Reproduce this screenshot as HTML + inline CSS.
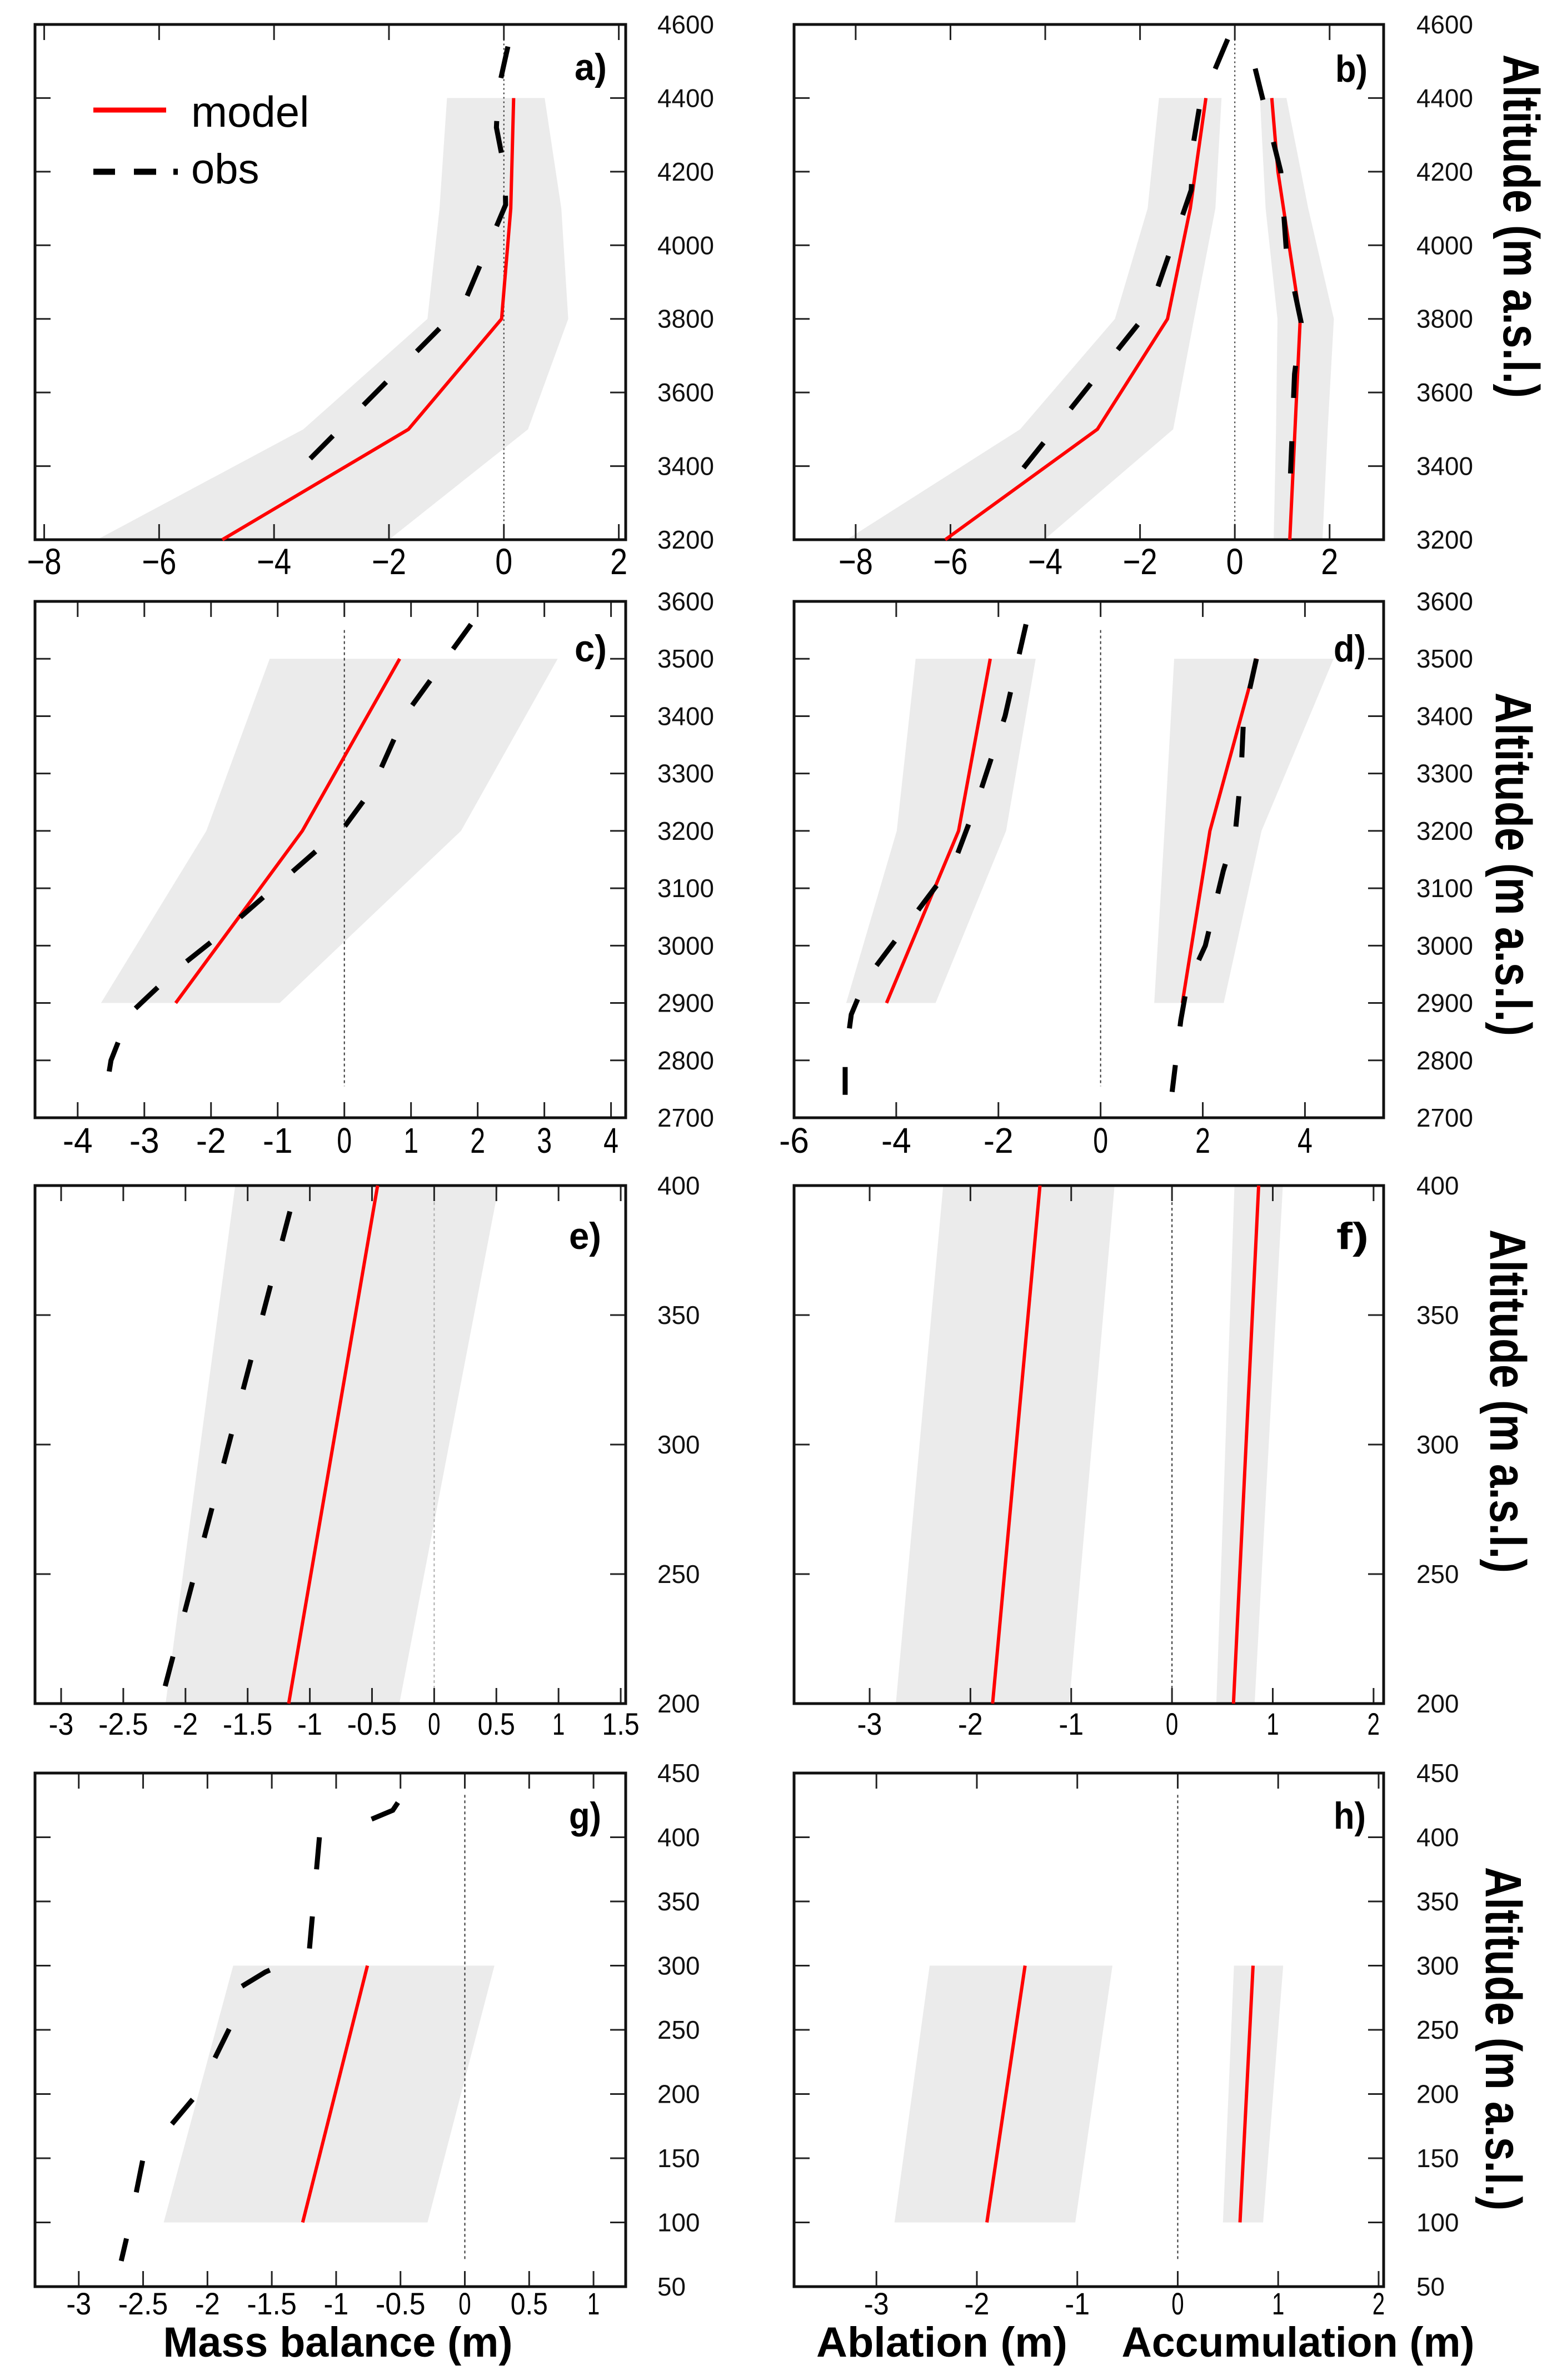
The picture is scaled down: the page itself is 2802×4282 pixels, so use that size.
<!DOCTYPE html>
<html><head><meta charset="utf-8">
<style>
html,body{margin:0;padding:0;background:#fff;}
svg{display:block;}
text{font-family:"Liberation Sans",sans-serif;}
</style></head>
<body>
<svg id="fig" xmlns="http://www.w3.org/2000/svg" width="2802" height="4282" viewBox="0 0 2802 4282">
<rect width="2802" height="4282" fill="#fff"/>
</svg>
<script>
// ---------- DATA ----------
// panel a
const altA_model=[4400,4100,3800,3500,3200];
const mbA_model=[0.17,0.12,-0.04,-1.66,-4.9];
const altA_obs=[4540,4420,4320,4200,4110,3840,3340];
const mbA_obs=[0.07,-0.1,-0.13,0.02,0.03,-0.7,-3.88];
const altA_band=[4400,4100,3800,3500,3200];
const mbA_bandLow=[-0.99,-1.12,-1.33,-3.49,-7.08];
const mbA_bandHigh=[0.71,1.0,1.12,0.42,-2.0];
// panel b
const altB_model=[4400,4100,3800,3500,3200];
const ablB_model=[-0.61,-0.94,-1.42,-2.9,-6.11];
const altB_accModel=[4400,4200,3800,3200];
const accB_model=[0.78,0.91,1.38,1.16];
const altB_ablObs=[4560,4380,4280,4150,3870,3800,3340];
const ablB_obs=[-0.15,-0.74,-0.87,-0.92,-1.67,-1.95,-4.8];
const altB_accObs=[4480,4200,3980,3790,3650,3330];
const accB_obs=[0.43,0.97,1.09,1.4,1.26,1.16];
const altB_band=[4400,4100,3800,3500,3200];
const ablB_bandLow=[-1.6,-1.84,-2.53,-4.53,-8.19];
const ablB_bandHigh=[-0.28,-0.41,-0.86,-1.3,-4.02];
const accB_bandLow=[0.53,0.65,0.9,0.87,0.82];
const accB_bandHigh=[1.09,1.55,2.09,1.96,1.85];
// panel c
const altC_model=[3500,3200,2900];
const mbC_model=[0.83,-0.63,-2.53];
const altC_obs=[3560,3400,3270,3210,3020,2960,2880,2800,2750];
const mbC_obs=[1.9,0.9,0.4,0.02,-1.85,-2.5,-3.23,-3.5,-3.57];
const altC_band=[3500,3200,2900];
const mbC_bandLow=[-1.12,-2.07,-3.65];
const mbC_bandHigh=[3.2,1.75,-0.97];
// panel d
const altD_model=[3500,3200,2900];
const ablD_model=[-2.16,-2.78,-4.19];
const accD_model=[3.06,2.14,1.6];
const altD_ablObs=[3560,3400,3250,3160,3120,2940,2880,2800,2740];
const ablD_obs=[-1.46,-1.87,-2.42,-2.8,-3.08,-4.6,-4.88,-5.0,-5.0];
const altD_accObs=[3500,3400,3300,3200,3130,3000,2930,2870,2745];
const accD_obs=[3.05,2.8,2.75,2.64,2.4,2.05,1.69,1.57,1.4];
const altD_band=[3500,3200,2900];
const ablD_bandLow=[-3.62,-3.99,-4.98];
const ablD_bandHigh=[-1.27,-1.85,-3.23];
const accD_bandLow=[1.44,1.25,1.05];
const accD_bandHigh=[4.56,3.15,2.41];
// panel e
const altE_model=[400,200];
const mbE_model=[-0.455,-1.17];
const altE_obs=[390,200];
const mbE_obs=[-1.16,-2.2];
const altE_band=[400,200];
const mbE_bandLow=[-1.6,-2.16];
const mbE_bandHigh=[0.52,-0.28];
// panel f
const altF_model=[400,200];
const ablF_model=[-1.31,-1.78];
const accF_model=[0.86,0.61];
const altF_band=[400,200];
const ablF_bandLow=[-2.27,-2.74];
const ablF_bandHigh=[-0.57,-1.02];
const accF_bandLow=[0.62,0.44];
const accF_bandHigh=[1.1,0.82];
// panel g
const altG_model=[300,100];
const mbG_model=[-0.757,-1.26];
const altG_obsTop=[427,421,413];
const mbG_obsTop=[-0.52,-0.56,-0.75];
const altG_obs=[400,310,295,281,257,200,150,100,70];
const mbG_obs=[-1.13,-1.21,-1.55,-1.78,-1.8,-2.08,-2.5,-2.6,-2.67];
const altG_band=[300,100];
const mbG_bandLow=[-1.8,-2.34];
const mbG_bandHigh=[0.23,-0.29];
// panel h
const altH_model=[300,100];
const ablH_model=[-1.52,-1.9];
const accH_model=[0.75,0.62];
const altH_band=[300,100];
const ablH_bandLow=[-2.47,-2.82];
const ablH_bandHigh=[-0.65,-1.02];
const accH_bandLow=[0.56,0.45];
const accH_bandHigh=[1.05,0.85];
// tick values
const yTicksAB=[3200,3400,3600,3800,4000,4200,4400,4600];
const yTicksCD=[2700,2800,2900,3000,3100,3200,3300,3400,3500,3600];
const yTicksEF=[200,250,300,350,400];
const yTicksGH=[50,100,150,200,250,300,350,400,450];
const xTicksA=[-8,-6,-4,-2,0,2];
const xTicksB=[-8,-6,-4,-2,0,2];
const xTicksC=[-4,-3,-2,-1,0,1,2,3,4];
const xTicksD=[-6,-4,-2,0,2,4];
const xTicksE=[-3,-2.5,-2,-1.5,-1,-0.5,0,0.5,1,1.5];
const xTicksF=[-3,-2,-1,0,1,2];
const xTicksG=[-3,-2.5,-2,-1.5,-1,-0.5,0,0.5,1];
const xTicksH=[-3,-2,-1,0,1,2];

// ---------- DRAWING ----------
const NS="http://www.w3.org/2000/svg";
const svg=document.getElementById('fig');
function mk(tag,attrs,parent){const e=document.createElementNS(NS,tag);for(const k in attrs)e.setAttribute(k,attrs[k]);(parent||svg).appendChild(e);return e;}
function makeScales(p){
  p.sx=v=>p.x0+(v-p.xmin)/(p.xmax-p.xmin)*(p.x1-p.x0);
  p.sy=v=>p.y1-(v-p.ymin)/(p.ymax-p.ymin)*(p.y1-p.y0);
}
function band(p,alts,lo,hi,name){
  let pts=[];
  for(let i=0;i<alts.length;i++)pts.push(p.sx(lo[i])+','+p.sy(alts[i]));
  for(let i=alts.length-1;i>=0;i--)pts.push(p.sx(hi[i])+','+p.sy(alts[i]));
  const e=mk('polygon',{points:pts.join(' '),fill:'#ebebeb'},p.g);
  
  
}
function line(p,alts,vals,name,obs){
  const pts=alts.map((a,i)=>p.sx(vals[i])+','+p.sy(a)).join(' ');
  const at=obs?{points:pts,fill:'none',stroke:'#000','stroke-width':9,'stroke-dasharray':p.dash||'58 78'}:{points:pts,fill:'none',stroke:'#ff0000','stroke-width':6,'stroke-linejoin':'round'};
  const e=mk('polyline',at,p.g);
  
  
}
function fmt(v,minus){let s=String(v);if(v<0)s=(minus||'-')+String(-v);return s;}
function axes(p){
  const z=mk('line',{x1:p.sx(0),x2:p.sx(0),y1:p.sy(p.zTop),y2:p.sy(p.zBot),stroke:p.zColor||'#333','stroke-width':2,'stroke-dasharray':p.zDash||'5 5'},p.g);
  
  
  p.xt.forEach(v=>{
    const x=p.sx(v);
    mk('line',{x1:x,x2:x,y1:p.y1,y2:p.y1-28,stroke:'#222','stroke-width':3},p.g);
    mk('line',{x1:x,x2:x,y1:p.y0,y2:p.y0+28,stroke:'#222','stroke-width':3},p.g);
    const s=fmt(v,p.minus);
    const t=mk('text',{x:x,y:p.xlabY,'font-size':p.xfs,'text-anchor':'middle',textLength:s.length*p.xfs*p.xw,lengthAdjust:'spacingAndGlyphs',fill:'#000'},p.g);
    t.textContent=s;
    
    
  });
  p.yt.forEach(v=>{
    const y=p.sy(v);
    mk('line',{x1:p.x0,x2:p.x0+28,y1:y,y2:y,stroke:'#222','stroke-width':3},p.g);
    mk('line',{x1:p.x1,x2:p.x1-28,y1:y,y2:y,stroke:'#222','stroke-width':3},p.g);
    const s=String(v);
    const t=mk('text',{x:p.ylabX,y:y+16,'font-size':46,textLength:s.length*25.5,lengthAdjust:'spacingAndGlyphs',fill:'#111'},p.g);
    t.textContent=s;
    
    
  });
  const f=mk('rect',{x:p.x0,y:p.y0,width:p.x1-p.x0,height:p.y1-p.y0,fill:'none',stroke:'#111','stroke-width':5},p.g);
  
  
  const l=mk('text',{x:p.labX,y:p.labY,'font-size':68,'font-weight':'bold',textLength:58,lengthAdjust:'spacingAndGlyphs',fill:'#000'},p.g);
  l.textContent=p.label;
  
  
}
function panel(cfg,name){
  const g=mk('g',{});
  
  
  cfg.g=g;makeScales(cfg);return cfg;
}
const L={x0:63,x1:1126,ylabX:1183},R={x0:1429,x1:2490,ylabX:2549};
const rowAB={y0:44,y1:971,ymin:3200,ymax:4600,xlabY:1033,xfs:66,xw:0.47};
const rowCD={y0:1082,y1:2011,ymin:2700,ymax:3600,xlabY:2074,xfs:64,xw:0.42};
const rowEF={y0:2133,y1:3065,ymin:200,ymax:400,xlabY:3121,xfs:56,xw:0.40};
const rowGH={y0:3190,y1:4114,ymin:50,ymax:450,xlabY:4164,xfs:56,xw:0.40};

// a
let p=panel(Object.assign({},L,rowAB,{xmin:-8.16,xmax:2.12,xt:xTicksA,yt:yTicksAB,minus:'\u2212',label:'a)',labX:1034,labY:144,zTop:4560,zBot:3240,zDash:'3 5'}),'panel-a');
band(p,altA_band,mbA_bandLow,mbA_bandHigh,'uncertainty-band');
axes(p);
line(p,altA_model,mbA_model,'model-line',false);
line(p,altA_obs,mbA_obs,'obs-line',true);
// b
p=panel(Object.assign({},R,rowAB,{xmin:-9.3,xmax:3.14,xt:xTicksB,yt:yTicksAB,minus:'\u2212',label:'b)',labX:2403,labY:147,zTop:4560,zBot:3240,zDash:'3 5'}),'panel-b');
band(p,altB_band,ablB_bandLow,ablB_bandHigh,'ablation-band');
band(p,altB_band,accB_bandLow,accB_bandHigh,'accumulation-band');
axes(p);
line(p,altB_model,ablB_model,'ablation-model-line',false);
line(p,altB_accModel,accB_model,'accumulation-model-line',false);
line(p,altB_ablObs,ablB_obs,'ablation-obs-line',true);
line(p,altB_accObs,accB_obs,'accumulation-obs-line',true);
// c
p=panel(Object.assign({},L,rowCD,{xmin:-4.64,xmax:4.22,xt:xTicksC,yt:yTicksCD,label:'c)',labX:1034,labY:1190,zTop:3550,zBot:2755,dash:'55 70'}),'panel-c');
band(p,altC_band,mbC_bandLow,mbC_bandHigh,'uncertainty-band');
axes(p);
line(p,altC_model,mbC_model,'model-line',false);
line(p,altC_obs,mbC_obs,'obs-line',true);
// d
p=panel(Object.assign({},R,rowCD,{xmin:-6.0,xmax:5.54,xt:xTicksD,yt:yTicksCD,label:'d)',labX:2400,labY:1190,zTop:3550,zBot:2755,dash:'55 70'}),'panel-d');
band(p,altD_band,ablD_bandLow,ablD_bandHigh,'ablation-band');
band(p,altD_band,accD_bandLow,accD_bandHigh,'accumulation-band');
axes(p);
line(p,altD_model,ablD_model,'ablation-model-line',false);
line(p,altD_model,accD_model,'accumulation-model-line',false);
line(p,altD_ablObs,ablD_obs,'ablation-obs-line',true);
line(p,altD_accObs,accD_obs,'accumulation-obs-line',true);
// e
p=panel(Object.assign({},L,rowEF,{xmin:-3.21,xmax:1.54,xt:xTicksE,yt:yTicksEF,label:'e)',labX:1024,labY:2247,zTop:400,zBot:200,zColor:'#aaa',dash:'55 83'}),'panel-e');
band(p,altE_band,mbE_bandLow,mbE_bandHigh,'uncertainty-band');
axes(p);
line(p,altE_model,mbE_model,'model-line',false);
line(p,altE_obs,mbE_obs,'obs-line',true);
// f
p=panel(Object.assign({},R,rowEF,{xmin:-3.75,xmax:2.1,xt:xTicksF,yt:yTicksEF,label:'f)',labX:2405,labY:2247,zTop:400,zBot:200}),'panel-f');
band(p,altF_band,ablF_bandLow,ablF_bandHigh,'ablation-band');
band(p,altF_band,accF_bandLow,accF_bandHigh,'accumulation-band');
axes(p);
line(p,altF_model,ablF_model,'ablation-model-line',false);
line(p,altF_model,accF_model,'accumulation-model-line',false);
// g
p=panel(Object.assign({},L,rowGH,{xmin:-3.34,xmax:1.25,xt:xTicksG,yt:yTicksGH,label:'g)',labX:1024,labY:3290,zTop:433,zBot:70,dash:'58 85'}),'panel-g');
band(p,altG_band,mbG_bandLow,mbG_bandHigh,'uncertainty-band');
axes(p);
line(p,altG_model,mbG_model,'model-line',false);
line(p,altG_obsTop,mbG_obsTop,'obs-line-top',true);
line(p,altG_obs,mbG_obs,'obs-line',true);
// h
p=panel(Object.assign({},R,rowGH,{xmin:-3.82,xmax:2.05,xt:xTicksH,yt:yTicksGH,label:'h)',labX:2400,labY:3290,zTop:433,zBot:70}),'panel-h');
band(p,altH_band,ablH_bandLow,ablH_bandHigh,'ablation-band');
band(p,altH_band,accH_bandLow,accH_bandHigh,'accumulation-band');
axes(p);
line(p,altH_model,ablH_model,'ablation-model-line',false);
line(p,altH_model,accH_model,'accumulation-model-line',false);

// legend
const lg=mk('g',{});


mk('line',{x1:168,x2:299,y1:198,y2:198,stroke:'#ff0000','stroke-width':9},lg);
mk('line',{x1:168,x2:320,y1:309,y2:309,stroke:'#000','stroke-width':11,'stroke-dasharray':'39 34 40 31 8 200'},lg);
let t=mk('text',{x:344,y:228,'font-size':78,fill:'#000'},lg);t.textContent='model';


t=mk('text',{x:344,y:330,'font-size':76,fill:'#000'},lg);t.textContent='obs';



// altitude titles
[[2706,407],[2692,1555],[2682,2521],[2674,3668]].forEach(c=>{
  const a=mk('text',{x:0,y:0,'font-size':92,'font-weight':'bold','text-anchor':'middle',textLength:618,lengthAdjust:'spacingAndGlyphs',transform:'translate('+c[0]+','+c[1]+') rotate(90)',fill:'#000'});
  a.textContent='Altitude (m a.s.l.)';
  
  
});
// bottom titles
[['Mass balance (m)',608,629,'x-axis-title-mass-balance'],['Ablation (m)',1695,452,'x-axis-title-ablation'],['Accumulation (m)',2336,635,'x-axis-title-accumulation']].forEach(d=>{
  const a=mk('text',{x:d[1],y:4240,'font-size':76,'font-weight':'bold','text-anchor':'middle',textLength:d[2],lengthAdjust:'spacingAndGlyphs',fill:'#000'});
  a.textContent=d[0];
  
  
});
</script>
</body></html>
